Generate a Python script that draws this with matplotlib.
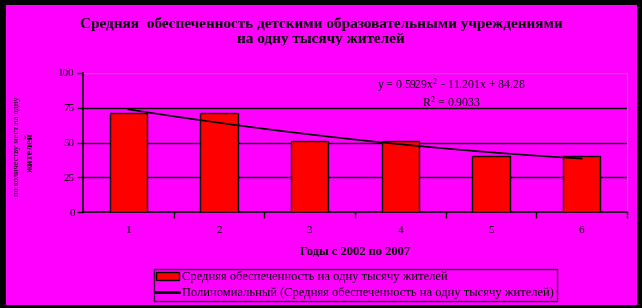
import numpy as np
import matplotlib.pyplot as plt
from matplotlib.patches import Rectangle
from matplotlib.lines import Line2D

years = [1, 2, 3, 4, 5, 6]
values = [71, 71, 51, 51, 40, 40]
yticks = [0, 25, 50, 75, 100]

title = 'Средняя  обеспеченность детскими образовательными учреждениями\nна одну тысячу жителей'
xlabel = 'Годы с 2002 по 2007'
ylabel_small = 'по количеству мест на одну'
ylabel_bold = 'жителей'
bar_label = 'Средняя обеспеченность на одну тысячу жителей'
trend_label = 'Полиномиальный (Средняя обеспеченность на одну тысячу жителей)'
eq_text = 'y = 0.5929x$^2$ - 11.201x + 84.28\nR$^2$ = 0.9033'

magenta = '#ff00ff'
plt.rcParams['font.family'] = ['Liberation Serif', 'DejaVu Serif']
plt.rcParams['mathtext.fontset'] = 'stix'

fig = plt.figure(figsize=(6.42, 3.08), dpi=100)
fig.patch.set_facecolor('black')
fig.patches.append(Rectangle((6 / 642, 3 / 308), 631 / 642, 300 / 308,
                             transform=fig.transFigure, facecolor=magenta,
                             edgecolor='none', zorder=-10))

ax = fig.add_axes([83 / 642, 1 - 212 / 308, 544 / 642, 139 / 308])
ax.set_facecolor(magenta)

bars = ax.bar(years, values, width=0.41, color='#ff0000', edgecolor='black',
              linewidth=1, zorder=3)

# polynomial trend (2nd order) fitted to the bars
coef = np.polyfit(years, values, 2)
xs = np.linspace(1, 6, 100)
ax.plot(xs, np.polyval(coef, xs), color='black', lw=1.2, zorder=4)

ax.set_xlim(0.5, 6.5)
ax.set_ylim(0, 100)
ax.set_yticks(yticks)
ax.set_yticklabels([str(v) for v in yticks], fontsize=8)
for v in yticks[1:-1]:
    ax.axhline(v, color='black', lw=1, zorder=1)
ax.axhline(100, color='#808080', lw=1, zorder=1)

ax.set_xticks(years)
ax.set_xticklabels([str(v) for v in years], fontsize=8)
ax.set_xticks([x + 0.5 for x in years], minor=True)
ax.tick_params(axis='x', which='major', length=0, pad=10)
ax.tick_params(axis='x', which='minor', length=4, width=1, direction='out')
ax.tick_params(axis='y', length=4, width=1, direction='out', pad=2)

for s in ['left', 'bottom']:
    ax.spines[s].set_color('black')
    ax.spines[s].set_linewidth(1.2)
ax.spines['top'].set_visible(False)
ax.spines['right'].set_color('#808080')

ax.set_xlabel(xlabel, fontsize=9, fontweight='bold', labelpad=8)

fig.text(17 / 642, 1 - 146 / 308, ylabel_small, rotation=90, fontsize=6,
         ha='center', va='center')
fig.text(30 / 642, 1 - 152 / 308, ylabel_bold, rotation=90, fontsize=7.5,
         fontweight='bold', ha='center', va='center')

ax.text(0.678, 0.853, eq_text, transform=ax.transAxes, fontsize=8.5,
        ha='center', va='center', linespacing=1.15, zorder=5)

fig.text(321 / 642, 1 - 31.5 / 308, title, fontsize=11, fontweight='bold',
         ha='center', va='center', linespacing=1.25)

trend_handle = Line2D([], [], color='black', lw=2)
leg = fig.legend([bars, trend_handle], [bar_label, trend_label], loc='center',
                 bbox_to_anchor=(355 / 642, 1 - 285 / 308),
                 fontsize=9, frameon=True, fancybox=False, handlelength=1.8,
                 handleheight=0.6, handletextpad=0.3, borderpad=0.2,
                 labelspacing=0.3, borderaxespad=0)
leg.get_frame().set_facecolor(magenta)
leg.get_frame().set_edgecolor('black')
leg.get_frame().set_linewidth(1)

fig.savefig('out.png', dpi=100, facecolor=fig.get_facecolor())
